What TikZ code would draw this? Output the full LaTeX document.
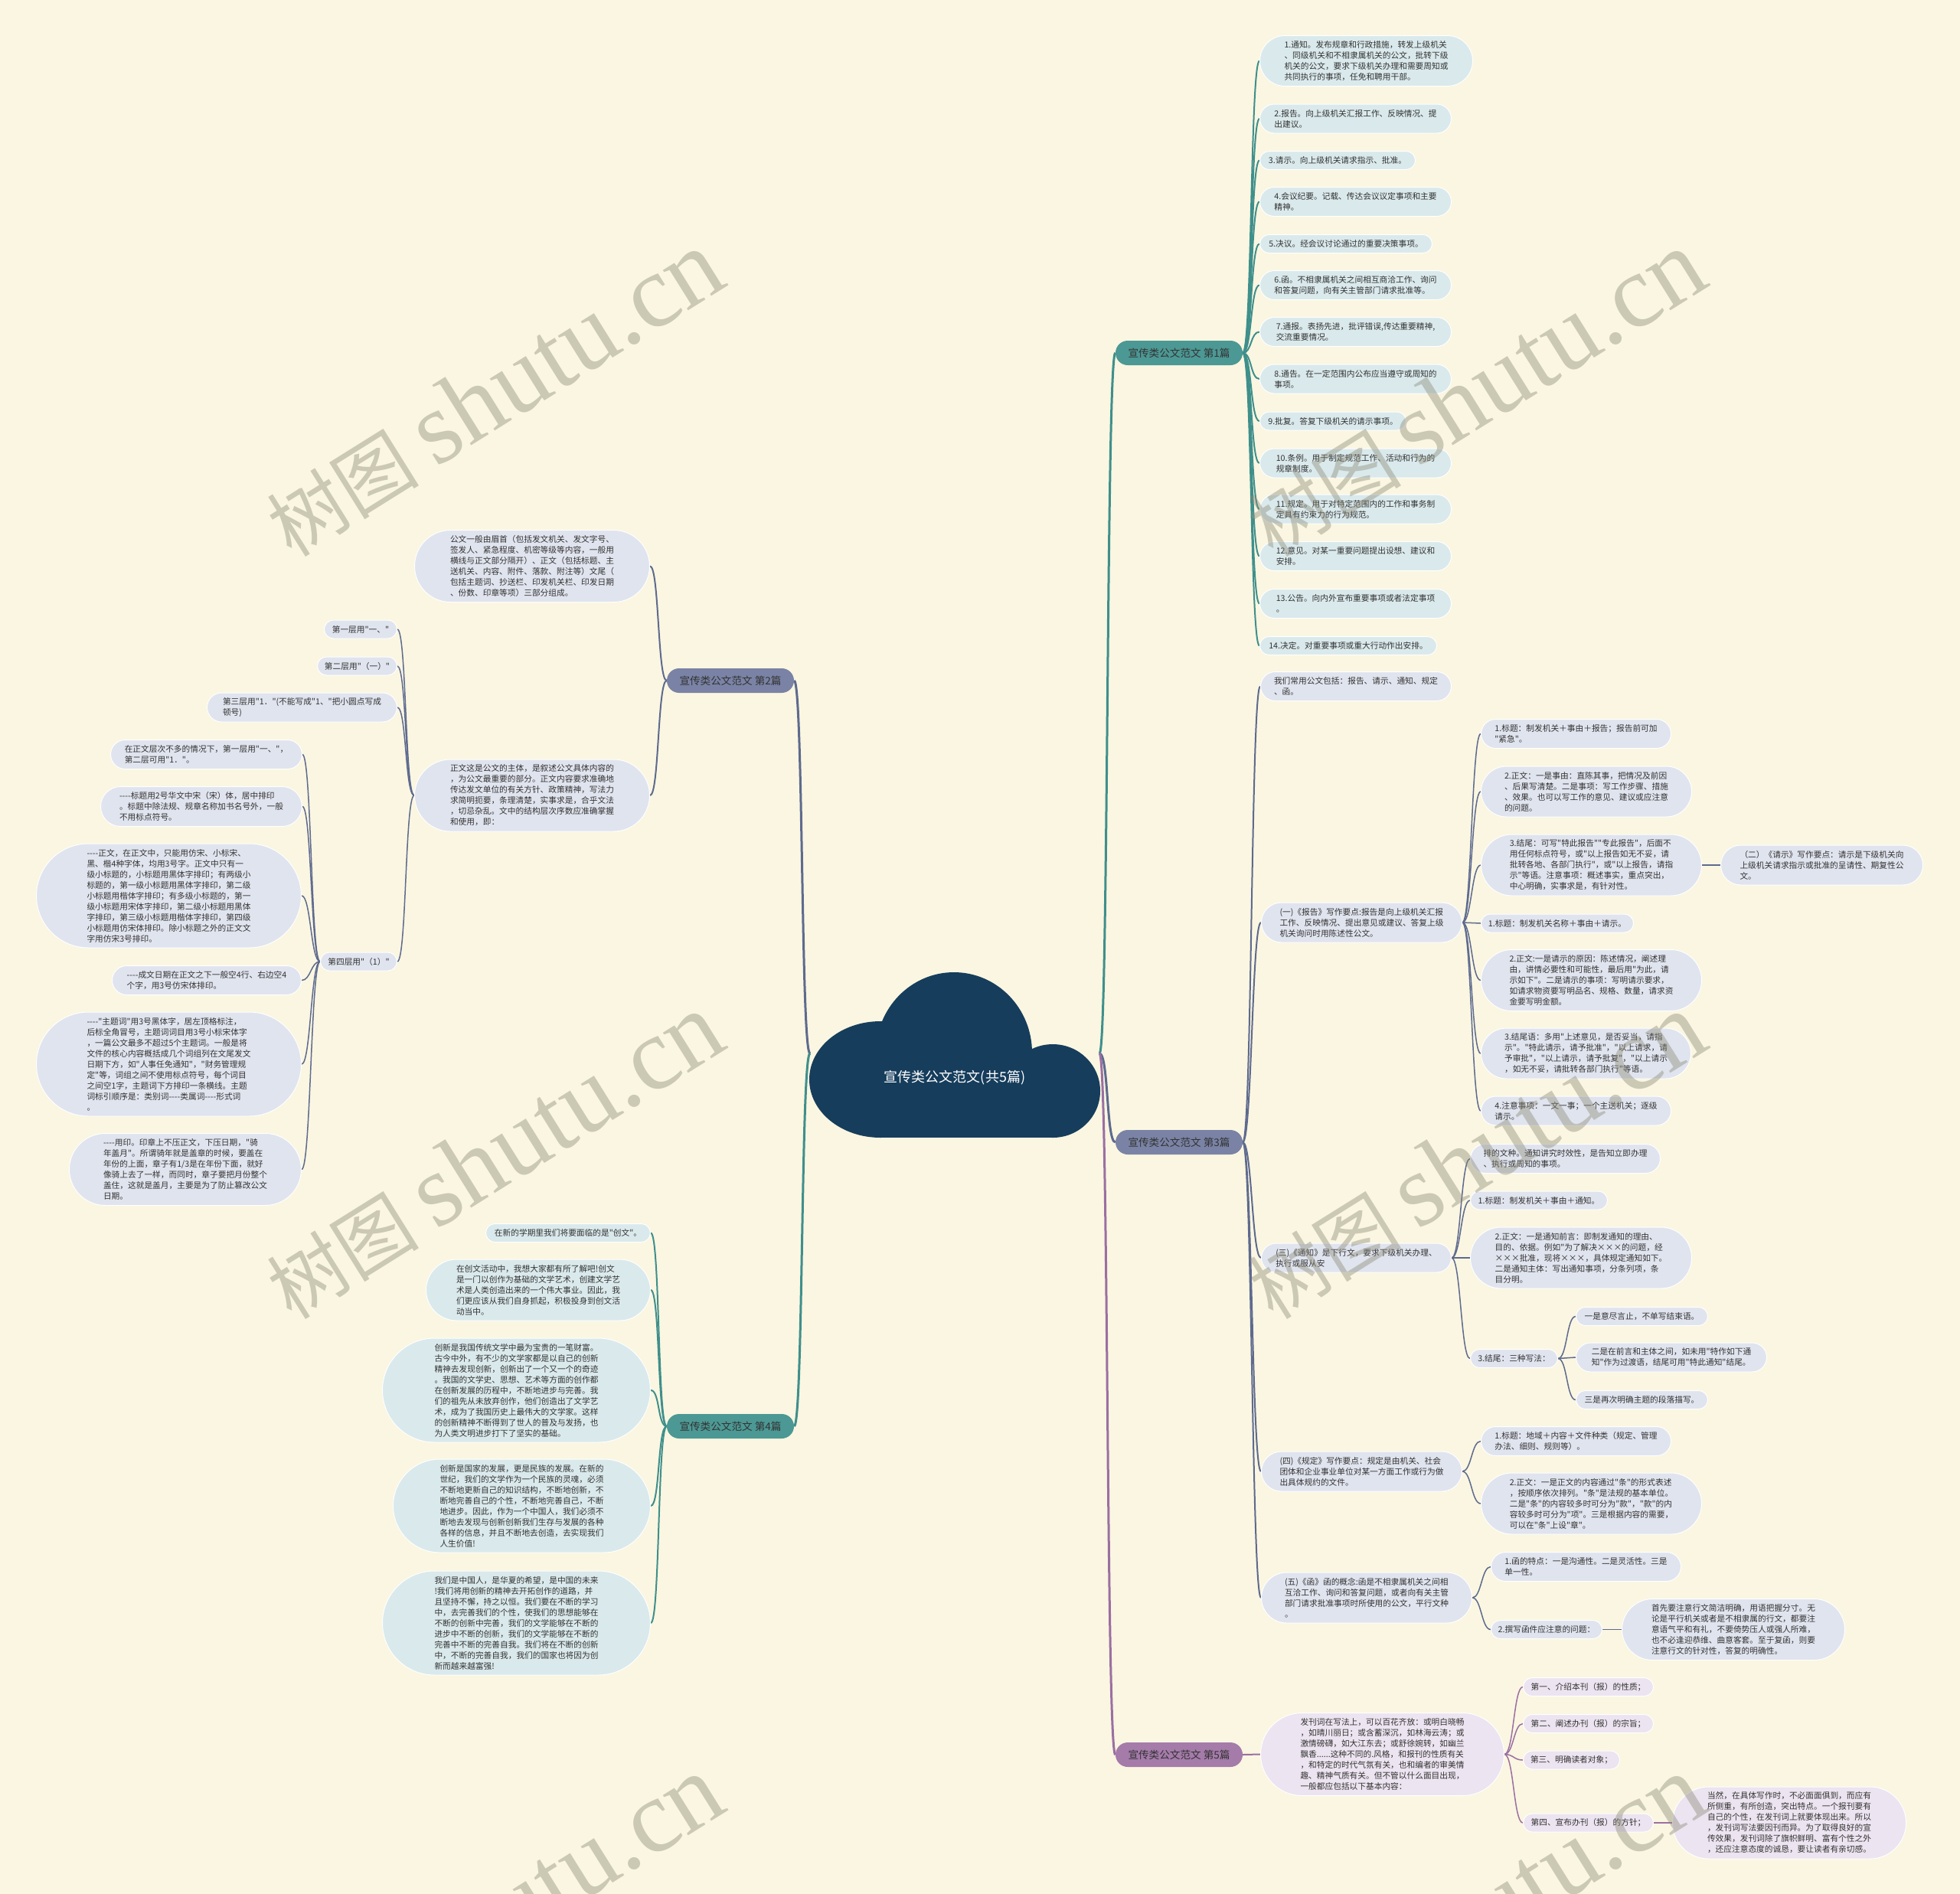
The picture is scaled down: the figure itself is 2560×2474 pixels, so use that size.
\documentclass[tikz,border=0pt]{standalone}
\usepackage{fontspec}
\newfontfamily\cjk{Noto Sans CJK SC}
\newfontfamily\wmserif{Liberation Serif}
\usetikzlibrary{shapes.misc}
\definecolor{bgc}{RGB}{250,246,225}
\definecolor{navy}{RGB}{22,61,92}
\definecolor{tealf}{RGB}{76,152,148}
\definecolor{grayf}{RGB}{122,131,165}
\definecolor{purpf}{RGB}{165,123,170}
\definecolor{tealL}{RGB}{63,143,139}
\definecolor{grayL}{RGB}{94,106,142}
\definecolor{purpL}{RGB}{155,111,162}
\definecolor{leafblue}{RGB}{218,233,236}
\definecolor{leafgray}{RGB}{224,228,238}
\definecolor{leafpurp}{RGB}{236,228,240}
\definecolor{txt}{RGB}{51,51,51}
\definecolor{wmcol}{RGB}{140,138,120}
\pgfdeclarelayer{bg}
\pgfsetlayers{bg,main}
\tikzset{
  leafbase/.style={rounded rectangle, draw=white, line width=1pt, inner xsep=1pt, inner ysep=3pt,
    align=left, text=txt, font=\cjk\fontsize{10.7}{14}\selectfont},
  lb/.style={leafbase, fill=leafblue},
  lg/.style={leafbase, fill=leafgray},
  lp/.style={leafbase, fill=leafpurp},
  bw/.style={minimum width=#1},
  ln1/.style={minimum height=24},
  ln2/.style={minimum height=38},
  ln3/.style={minimum height=52},
  ln4/.style={minimum height=66},
  ln5/.style={minimum height=80},
  ln6/.style={minimum height=94},
  ln7/.style={minimum height=108},
  ln8/.style={minimum height=122},
  ln9/.style={minimum height=136},
  brnode/.style={rounded rectangle, minimum height=32, minimum width=166, inner xsep=0pt, inner ysep=2pt,
    text=txt, font=\cjk\fontsize{13.6}{16}\selectfont},
  rootline/.style={line width=3pt},
  mainline/.style={line width=2pt},
  subline/.style={line width=1.5pt},
  wm/.style={text=wmcol, opacity=0.42, rotate=32, inner sep=0pt}
}
\newcommand{\rcon}[3]{\draw[#3] (#1.east) .. controls +(12,0) and +(-12,0) .. (#2.west);}
\newcommand{\lcon}[3]{\draw[#3] (#1.west) .. controls +(-12,0) and +(12,0) .. (#2.east);}
\begin{document}
\begin{tikzpicture}[x=1pt,y=-1pt]
\useasboundingbox (0,0) rectangle (2560,2474);
\begin{pgfonlayer}{bg}
\fill[bgc] (0,0) rectangle (2560,2474);
\end{pgfonlayer}

% ---------- root ----------
\fill[navy] (1150,1410) ellipse [x radius=93, y radius=76];
\fill[navy] (1246,1375) ellipse [x radius=102, y radius=105];
\fill[navy] (1375,1425) ellipse [x radius=62, y radius=61];
\fill[navy] (1150,1420) rectangle (1375,1486);
\node[text=white, font=\cjk\fontsize{18}{20}\selectfont] (root) at (1247,1408) {宣传类公文范文(共5篇)};
\coordinate (cl) at (1058,1376);
\coordinate (cr) at (1436,1376);

% ---------- branch nodes ----------
\node[brnode, fill=tealf] (B1) at (1540,461) {宣传类公文范文 第1篇};
\node[brnode, fill=grayf] (B2) at (954,889) {宣传类公文范文 第2篇};
\node[brnode, fill=grayf] (B3) at (1540,1492) {宣传类公文范文 第3篇};
\node[brnode, fill=tealf] (B4) at (954,1863) {宣传类公文范文 第4篇};
\node[brnode, fill=purpf] (B5) at (1540,2292) {宣传类公文范文 第5篇};

% ---------- branch 1 ----------
\node[lb, ln4, bw=280, anchor=west] (p1) at (1645,79.5) {1.通知。发布规章和行政措施，转发上级机关\\、同级机关和不相隶属机关的公文，批转下级\\机关的公文，要求下级机关办理和需要周知或\\共同执行的事项，任免和聘用干部。};
\node[lb, ln2, bw=252, anchor=west] (p2) at (1645,155) {2.报告。向上级机关汇报工作、反映情况、提\\出建议。};
\node[lb, ln1, bw=205, anchor=west] (p3) at (1645,209.5) {3.请示。向上级机关请求指示、批准。};
\node[lb, ln2, bw=252, anchor=west] (p4) at (1645,263.5) {4.会议纪要。记载、传达会议议定事项和主要\\精神。};
\node[lb, ln1, bw=227, anchor=west] (p5) at (1645,318.5) {5.决议。经会议讨论通过的重要决策事项。};
\node[lb, ln2, bw=252, anchor=west] (p6) at (1645,372.5) {6.函。不相隶属机关之间相互商洽工作、询问\\和答复问题，向有关主管部门请求批准等。};
\node[lb, ln2, bw=252, anchor=west] (p7) at (1645,433.5) {7.通报。表扬先进，批评错误,传达重要精神,\\交流重要情况。};
\node[lb, ln2, bw=252, anchor=west] (p8) at (1645,495) {8.通告。在一定范围内公布应当遵守或周知的\\事项。};
\node[lb, ln1, bw=193, anchor=west] (p9) at (1645,550) {9.批复。答复下级机关的请示事项。};
\node[lb, ln2, bw=252, anchor=west] (p10) at (1645,605) {10.条例。用于制定规范工作、活动和行为的\\规章制度。};
\node[lb, ln2, bw=252, anchor=west] (p11) at (1645,665) {11.规定。用于对特定范围内的工作和事务制\\定具有约束力的行为规范。};
\node[lb, ln2, bw=252, anchor=west] (p12) at (1645,726.5) {12.意见。对某一重要问题提出设想、建议和\\安排。};
\node[lb, ln2, bw=252, anchor=west] (p13) at (1645,788.5) {13.公告。向内外宣布重要事项或者法定事项\\。};
\node[lb, ln1, bw=233, anchor=west] (p14) at (1645,843.5) {14.决定。对重要事项或重大行动作出安排。};

% ---------- branch 3 ----------
\node[lg, ln2, bw=251, anchor=west] (t1) at (1646,896.5) {我们常用公文包括：报告、请示、通知、规定\\、函。};
\node[lg, ln3, bw=264, anchor=west] (t2) at (1647,1205) {(一)《报告》写作要点:报告是向上级机关汇报\\工作、反映情况、提出意见或建议、答复上级\\机关询问时用陈述性公文。};
\node[lg, ln2, bw=250, anchor=west] (u1) at (1934,958.5) {1.标题：制发机关＋事由＋报告；报告前可加\\"紧急"。};
\node[lg, ln4, bw=277, anchor=west] (u2) at (1934,1034) {2.正文：一是事由：直陈其事，把情况及前因\\、后果写清楚。二是事项：写工作步骤、措施\\、效果。也可以写工作的意见、建议或应注意\\的问题。};
\node[lg, ln5, bw=290, anchor=west] (u3) at (1934,1130) {3.结尾：可写"特此报告""专此报告"，后面不\\用任何标点符号，或"以上报告如无不妥，请\\批转各地、各部门执行"，或"以上报告，请指\\示"等语。注意事项：概述事实，重点突出，\\中心明确，实事求是，有针对性。};
\node[lg, ln3, bw=266, anchor=west] (u3x) at (2247,1130) {（二）《请示》写作要点：请示是下级机关向\\上级机关请求指示或批准的呈请性、期复性公\\文。};
\node[lg, ln1, bw=201, anchor=west] (u4) at (1934,1206) {1.标题：制发机关名称＋事由＋请示。};
\node[lg, ln5, bw=290, anchor=west] (u5) at (1934,1280.5) {2.正文:一是请示的原因：陈述情况，阐述理\\由，讲情必要性和可能性，最后用"为此，请\\示如下"。二是请示的事项：写明请示要求，\\如请求物资要写明品名、规格、数量，请求资\\金要写明金额。};
\node[lg, ln4, bw=276, anchor=west] (u6) at (1934,1376) {3.结尾语：多用"上述意见，是否妥当，请指\\示"。"特此请示，请予批准"，"以上请求，请\\予审批"，"以上请示，请予批复"，"以上请示\\，如无不妥，请批转各部门执行"等语。};
\node[lg, ln2, bw=250, anchor=west] (u7) at (1934,1451) {4.注意事项：一文一事；一个主送机关；逐级\\请示。};
\node[lg, ln2, bw=250, anchor=west] (t3) at (1647,1643) {(三)《通知》是下行文，要求下级机关办理、\\执行或服从安};
\node[lg, ln2, bw=250, anchor=west] (v0) at (1920,1513.5) {排的文种。通知讲究时效性，是告知立即办理\\、执行或周知的事项。};
\node[lg, ln1, bw=181, anchor=west] (v1) at (1920,1568) {1.标题：制发机关＋事由＋通知。};
\node[lg, ln5, bw=291, anchor=west] (v2) at (1920,1643) {2.正文：一是通知前言：即制发通知的理由、\\目的、依据。例如"为了解决×××的问题，经\\×××批准，现将×××，具体规定通知如下。\\二是通知主体：写出通知事项，分条列项，条\\目分明。};
\node[lg, ln1, bw=116, anchor=west] (v3) at (1920,1774.5) {3.结尾：三种写法：};
\node[lg, ln1, bw=174, anchor=west] (w1) at (2058,1719.5) {一是意尽言止，不单写结束语。};
\node[lg, ln2, bw=251, anchor=west] (w2) at (2058,1773) {二是在前言和主体之间，如未用"特作如下通\\知"作为过渡语，结尾可用"特此通知"结尾。};
\node[lg, ln1, bw=174, anchor=west] (w3) at (2058,1828.5) {三是再次明确主题的段落描写。};
\node[lg, ln3, bw=264, anchor=west] (t4) at (1647,1922) {(四)《规定》写作要点：规定是由机关、社会\\团体和企业事业单位对某一方面工作或行为做\\出具体规约的文件。};
\node[lg, ln2, bw=250, anchor=west] (x1) at (1934,1882.5) {1.标题：地域＋内容＋文件种类（规定、管理\\办法、细则、规则等）。};
\node[lg, ln5, bw=290, anchor=west] (x2) at (1934,1964) {2.正文：一是正文的内容通过"条"的形式表述\\，按顺序依次排列。"条"是法规的基本单位。\\二是"条"的内容较多时可分为"款"，"款"的内\\容较多时可分为"项"。三是根据内容的需要，\\可以在"条"上设"章"。};
\node[lg, ln4, bw=277, anchor=west] (t5) at (1647,2087) {(五)《函》函的概念:函是不相隶属机关之间相\\互洽工作、询问和答复问题，或者向有关主管\\部门请求批准事项时所使用的公文，平行文种\\。};
\node[lg, ln2, bw=250, anchor=west] (y1) at (1947,2046.5) {1.函的特点：一是沟通性。二是灵活性。三是\\单一性。};
\node[lg, ln1, bw=147, anchor=west] (y2) at (1947,2128.5) {2.撰写函件应注意的问题：};
\node[lg, ln5, bw=293, anchor=west] (y2x) at (2118,2128.5) {首先要注意行文简洁明确，用语把握分寸。无\\论是平行机关或者是不相隶属的行文，都要注\\意语气平和有礼，不要倚势压人或强人所难，\\也不必逢迎恭维、曲意客套。至于复函，则要\\注意行文的针对性，答复的明确性。};

% ---------- branch 5 ----------
\node[lp, ln7, bw=320, anchor=west] (q0) at (1646,2291.5) {发刊词在写法上，可以百花齐放：或明白晓畅\\，如晴川丽日；或含蓄深沉，如林海云涛；或\\激情磅礴，如大江东去；或舒徐婉转，如幽兰\\飘香......这种不同的.风格，和报刊的性质有关\\，和特定的时代气氛有关，也和编者的审美情\\趣、精神气质有关。但不管以什么面目出现，\\一般都应包括以下基本内容：};
\node[lp, ln1, bw=172, anchor=west] (q1) at (1989,2203.5) {第一、介绍本刊（报）的性质；};
\node[lp, ln1, bw=172, anchor=west] (q2) at (1989,2251.5) {第二、阐述办刊（报）的宗旨；};
\node[lp, ln1, bw=128, anchor=west] (q3) at (1989,2299) {第三、明确读者对象；};
\node[lp, ln1, bw=172, anchor=west] (q4) at (1989,2381) {第四、宣布办刊（报）的方针；};
\node[lp, ln6, bw=307, anchor=west] (q4x) at (2184,2381) {当然，在具体写作时，不必面面俱到，而应有\\所侧重，有所创造，突出特点。一个报刊要有\\自己的个性，在发刊词上就要体现出来。所以\\，发刊词写法要因刊而异。为了取得良好的宣\\传效果，发刊词除了旗帜鲜明、富有个性之外\\，还应注意态度的诚恳，要让读者有亲切感。};

% ---------- branch 2 ----------
\node[lg, ln6, bw=309, anchor=east] (g1) at (849,739.5) {公文一般由眉首（包括发文机关、发文字号、\\签发人、紧急程度、机密等级等内容，一般用\\横线与正文部分隔开）、正文（包括标题、主\\送机关、内容、附件、落款、附注等）文尾（\\包括主题词、抄送栏、印发机关栏、印发日期\\、份数、印章等项）三部分组成。};
\node[lg, ln6, bw=309, anchor=east] (g2) at (849,1039) {正文这是公文的主体，是叙述公文具体内容的\\，为公文最重要的部分。正文内容要求准确地\\传达发文单位的有关方针、政策精神，写法力\\求简明扼要，条理清楚，实事求是，合乎文法\\，切忌杂乱。文中的结构层次序数应准确掌握\\和使用，即：};
\node[lg, ln1, bw=97, anchor=east] (k1) at (519,822) {第一层用"一、"};
\node[lg, ln1, bw=106, anchor=east] (k2) at (519,870) {第二层用"（一）"};
\node[lg, ln2, bw=250, anchor=east] (k3) at (519,924) {第三层用"1．"(不能写成"1、"把小圆点写成\\顿号)};
\node[lg, ln1, bw=102, anchor=east] (k4) at (519,1256) {第四层用"（1）"};
\node[lg, ln2, bw=252, anchor=east] (m1) at (395,985.5) {在正文层次不多的情况下，第一层用"一、"，\\第二层可用"1．"。};
\node[lg, ln3, bw=265, anchor=east] (m2) at (395,1053.5) {----标题用2号华文中宋（宋）体，居中排印\\。标题中除法规、规章名称加书名号外，一般\\不用标点符号。};
\node[lg, ln9, bw=348, anchor=east] (m3) at (394,1170) {----正文，在正文中，只能用仿宋、小标宋、\\黑、楷4种字体，均用3号字。正文中只有一\\级小标题的，小标题用黑体字排印；有两级小\\标题的，第一级小标题用黑体字排印，第二级\\小标题用楷体字排印；有多级小标题的，第一\\级小标题用宋体字排印，第二级小标题用黑体\\字排印，第三级小标题用楷体字排印，第四级\\小标题用仿宋体排印。除小标题之外的正文文\\字用仿宋3号排印。};
\node[lg, ln2, bw=249, anchor=east] (m4) at (394,1280.5) {----成文日期在正文之下一般空4行、右边空4\\个字，用3号仿宋体排印。};
\node[lg, ln9, bw=348, anchor=east] (m5) at (394,1390) {----"主题词"用3号黑体字，居左顶格标注，\\后标全角冒号，主题词词目用3号小标宋体字\\，一篇公文最多不超过5个主题词。一般是将\\文件的核心内容概括成几个词组列在文尾发文\\日期下方，如"人事任免通知"，"财务管理规\\定"等，词组之间不使用标点符号，每个词目\\之间空1字，主题词下方排印一条横线。主题\\词标引顺序是：类别词----类属词----形式词\\。};
\node[lg, ln6, bw=305, anchor=east] (m6) at (394,1527.5) {----用印。印章上不压正文，下压日期，"骑\\年盖月"。所谓骑年就是盖章的时候，要盖在\\年份的上面，章子有1/3是在年份下面，就好\\像骑上去了一样，而同时，章子要把月份整个\\盖住，这就是盖月，主要是为了防止篡改公文\\日期。};

% ---------- branch 4 ----------
\node[lb, ln1, bw=217, anchor=east] (j1) at (850,1610.5) {在新的学期里我们将要面临的是"创文"。};
\node[lb, ln5, bw=295, anchor=east] (j2) at (850,1685) {在创文活动中，我想大家都有所了解吧!创文\\是一门以创作为基础的文学艺术，创建文学艺\\术是人类创造出来的一个伟大事业。因此，我\\们更应该从我们自身抓起，积极投身到创文活\\动当中。};
\node[lb, ln9, bw=352, anchor=east] (j3) at (850,1816) {创新是我国传统文学中最为宝贵的一笔财富。\\古今中外，有不少的文学家都是以自己的创新\\精神去发现创新，创新出了一个又一个的奇迹\\。我国的文学史、思想、艺术等方面的创作都\\在创新发展的历程中，不断地进步与完善。我\\们的祖先从未放弃创作，他们创造出了文学艺\\术，成为了我国历史上最伟大的文学家。这样\\的创新精神不断得到了世人的普及与发扬，也\\为人类文明进步打下了坚实的基础。};
\node[lb, ln8, bw=338, anchor=east] (j4) at (850,1967) {创新是国家的发展，更是民族的发展。在新的\\世纪，我们的文学作为一个民族的灵魂，必须\\不断地更新自己的知识结构，不断地创新，不\\断地完善自己的个性，不断地完善自己，不断\\地进步。因此，作为一个中国人，我们必须不\\断地去发现与创新创新我们生存与发展的各种\\各样的信息，并且不断地去创造，去实现我们\\人生价值!};
\node[lb, ln9, bw=352, anchor=east] (j5) at (850,2120) {我们是中国人，是华夏的希望，是中国的未来\\!我们将用创新的精神去开拓创作的道路，并\\且坚持不懈，持之以恒。我们要在不断的学习\\中，去完善我们的个性，使我们的思想能够在\\不断的创新中完善，我们的文学能够在不断的\\进步中不断的创新，我们的文学能够在不断的\\完善中不断的完善自我。我们将在不断的创新\\中，不断的完善自我，我们的国家也将因为创\\新而越来越富强!};

% ---------- connectors ----------
\begin{pgfonlayer}{bg}
\draw[rootline, tealL] (cr) .. controls +(12,0) and +(-12,0) .. (B1.west);
\draw[rootline, grayL] (cr) .. controls +(12,0) and +(-12,0) .. (B3.west);
\draw[rootline, purpL] (cr) .. controls +(12,0) and +(-12,0) .. (B5.west);
\draw[rootline, grayL] (cl) .. controls +(-12,0) and +(12,0) .. (B2.east);
\draw[rootline, tealL] (cl) .. controls +(-12,0) and +(12,0) .. (B4.east);
\foreach \n in {p1,p2,p3,p4,p5,p6,p7,p8,p9,p10,p11,p12,p13,p14} {\rcon{B1}{\n}{mainline, tealL}}
\foreach \n in {t1,t2,t3,t4,t5} {\rcon{B3}{\n}{mainline, grayL}}
\foreach \n in {u1,u2,u3,u4,u5,u6,u7} {\rcon{t2}{\n}{subline, grayL}}
\rcon{u3}{u3x}{subline, grayL}
\foreach \n in {v0,v1,v2,v3} {\rcon{t3}{\n}{subline, grayL}}
\foreach \n in {w1,w2,w3} {\rcon{v3}{\n}{subline, grayL}}
\foreach \n in {x1,x2} {\rcon{t4}{\n}{subline, grayL}}
\foreach \n in {y1,y2} {\rcon{t5}{\n}{subline, grayL}}
\rcon{y2}{y2x}{subline, grayL}
\rcon{B5}{q0}{mainline, purpL}
\foreach \n in {q1,q2,q3,q4} {\rcon{q0}{\n}{subline, purpL}}
\rcon{q4}{q4x}{subline, purpL}
\foreach \n in {g1,g2} {\lcon{B2}{\n}{mainline, grayL}}
\foreach \n in {k1,k2,k3,k4} {\lcon{g2}{\n}{subline, grayL}}
\foreach \n in {m1,m2,m3,m4,m5,m6} {\lcon{k4}{\n}{subline, grayL}}
\foreach \n in {j1,j2,j3,j4,j5} {\lcon{B4}{\n}{mainline, tealL}}
\end{pgfonlayer}

% ---------- watermarks ----------
\foreach \wx/\wy in {645/514, 1927/514, 645/1510, 1927/1510, 645/2506, 1927/2506} {
  \node[wm] (wm-\wx-\wy) at (\wx,\wy) {{\cjk\fontsize{100}{100}\selectfont 树图}\hspace{22pt}{\wmserif\fontsize{135}{135}\selectfont shutu.cn}};
}
\end{tikzpicture}
\end{document}
